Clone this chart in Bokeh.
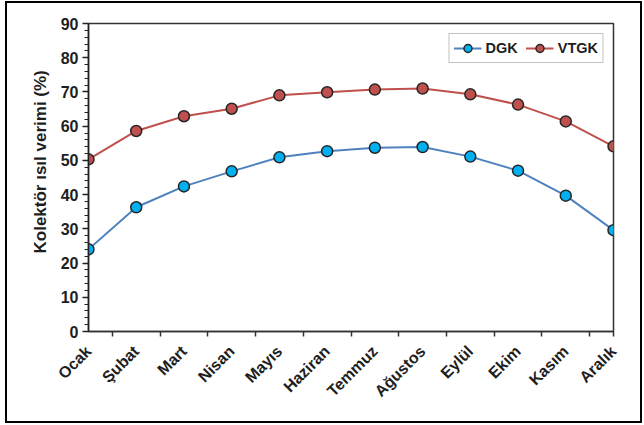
import math
from bokeh.plotting import figure
from bokeh.models import Range1d, FixedTicker, SingleIntervalTicker, Legend, LegendItem, Title
from bokeh.embed import file_html
from bokeh.resources import INLINE

months = ["Ocak", "Şubat", "Mart", "Nisan", "Mayıs", "Haziran", "Temmuz",
          "Ağustos", "Eylül", "Ekim", "Kasım", "Aralık"]
dgk = [24.0, 36.3, 42.4, 46.8, 50.9, 52.7, 53.7, 53.9, 51.1, 47.0, 39.7, 29.6]
vtgk = [50.3, 58.6, 62.9, 65.1, 69.0, 69.9, 70.7, 71.0, 69.3, 66.3, 61.4, 54.1]
y_title = "Kolektör ısıl verimi (%)"

xs = list(range(len(months)))

p = figure(width=637, height=422, output_backend="svg", toolbar_location=None,
           x_range=Range1d(0, len(months) - 1), y_range=Range1d(0, 90),
           min_border_left=81, min_border_right=31, min_border_top=20, min_border_bottom=94)
p.styles = {"border": "2px solid black", "margin-left": "5px", "margin-top": "1px"}
p.background_fill_color = "white"
p.border_fill_color = "white"
p.outline_line_color = "#333333"
p.outline_line_width = 1.5
p.xgrid.visible = False
p.ygrid.visible = False

FONT = "Liberation Sans"
TXT = "#1e1e1e"

# x axis
xa = p.xaxis[0]
xa.ticker = FixedTicker(ticks=xs, minor_ticks=[i + 0.5 for i in xs[:-1]] + [xs[-1]])
xa.major_label_overrides = {i: m for i, m in enumerate(months)}
xa.major_label_orientation = math.pi / 4
xa.major_tick_line_color = None
xa.major_tick_out = 0
xa.major_tick_in = 0
xa.minor_tick_out = 5
xa.minor_tick_in = 0
xa.minor_tick_line_color = "#333333"
xa.minor_tick_line_width = 1.5
xa.axis_line_color = "#333333"
xa.axis_line_width = 1.5
xa.major_label_text_font = FONT
xa.major_label_text_font_style = "bold"
xa.major_label_text_font_size = "16px"
xa.major_label_text_color = TXT
xa.major_label_standoff = 12

# y axis
ya = p.yaxis[0]
ya.ticker = SingleIntervalTicker(interval=10, num_minor_ticks=5)
ya.major_tick_out = 6
ya.major_tick_in = 0
ya.minor_tick_out = 4
ya.minor_tick_in = 0
ya.major_tick_line_width = 1.5
ya.minor_tick_line_width = 1.2
ya.major_tick_line_color = "#222222"
ya.minor_tick_line_color = "#222222"
ya.axis_line_color = "#222222"
ya.axis_line_width = 1.5
ya.major_label_text_font = FONT
ya.major_label_text_font_style = "bold"
ya.major_label_text_font_size = "16px"
ya.major_label_text_color = TXT
ya.major_label_standoff = 4

title = Title(text=y_title, align="left", offset=78, standoff=16,
              text_font=FONT, text_font_style="bold", text_font_size="17px",
              text_color=TXT)
p.add_layout(title, "left")

l1 = p.line(xs, dgk, line_color="#4F81BD", line_width=2)
s1 = p.scatter(xs, dgk, size=11, fill_color="#00B0F0", line_color="#262626", line_width=1.5)
l2 = p.line(xs, vtgk, line_color="#C0504D", line_width=2)
s2 = p.scatter(xs, vtgk, size=11, fill_color="#C0504D", line_color="#262626", line_width=1.5)

legend = Legend(items=[LegendItem(label="DGK", renderers=[l1, s1]),
                       LegendItem(label="VTGK", renderers=[l2, s2])],
                location="top_right", orientation="horizontal")
legend.label_text_font = FONT
legend.label_text_font_style = "bold"
legend.label_text_font_size = "14.5px"
legend.label_text_color = TXT
legend.border_line_color = "#888888"
legend.border_line_width = 1
legend.background_fill_color = "white"
legend.background_fill_alpha = 1
legend.glyph_width = 28
legend.spacing = 8
legend.padding = 4
legend.margin = 10
legend.label_standoff = 4
p.add_layout(legend)

open("out.html", "w").write(file_html(p, INLINE))
